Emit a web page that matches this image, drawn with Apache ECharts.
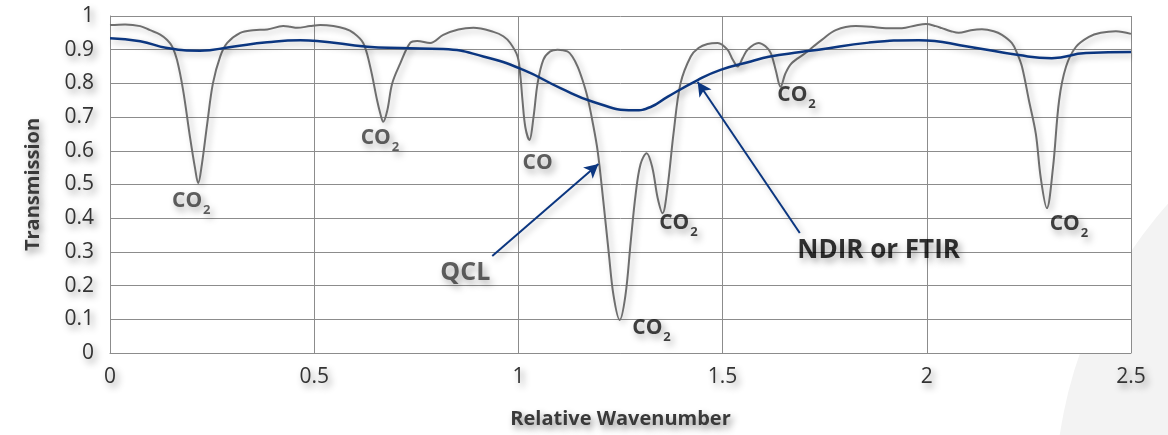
<!DOCTYPE html>
<html><head><meta charset="utf-8">
<script src="https://cdn.jsdelivr.net/npm/echarts@6/dist/echarts.min.js"></script>
<style>html,body{margin:0;padding:0;background:#fff}#c{width:1168px;height:435px}</style>
</head><body><div id="c"></div>
<script>
// QCL (high-resolution) transmission spectrum
const qclX = [0.000,0.037,0.074,0.098,0.123,0.140,0.152,0.164,0.179,0.196,0.208,0.216,0.225,0.238,0.252,0.270,0.287,0.319,0.350,0.385,0.424,0.441,0.458,0.490,0.515,0.547,0.576,0.596,0.620,0.637,0.654,0.662,0.669,0.679,0.691,0.711,0.735,0.752,0.784,0.816,0.853,0.890,0.939,0.963,0.980,0.998,1.005,1.010,1.017,1.027,1.037,1.047,1.061,1.078,1.096,1.120,1.132,1.145,1.157,1.169,1.181,1.194,1.208,1.221,1.233,1.248,1.262,1.275,1.287,1.299,1.314,1.328,1.341,1.353,1.365,1.380,1.397,1.422,1.441,1.463,1.488,1.512,1.525,1.537,1.549,1.561,1.588,1.605,1.618,1.630,1.642,1.654,1.669,1.703,1.723,1.743,1.777,1.826,1.863,1.900,1.939,1.973,1.998,2.022,2.037,2.059,2.078,2.108,2.135,2.164,2.184,2.208,2.221,2.233,2.250,2.267,2.279,2.294,2.309,2.324,2.341,2.365,2.397,2.426,2.463,2.500];
const qclY = [0.973,0.975,0.970,0.958,0.945,0.929,0.910,0.870,0.780,0.640,0.550,0.504,0.560,0.680,0.800,0.880,0.920,0.950,0.958,0.960,0.970,0.968,0.965,0.970,0.973,0.970,0.962,0.950,0.920,0.850,0.750,0.710,0.686,0.720,0.800,0.860,0.920,0.926,0.920,0.944,0.960,0.965,0.953,0.940,0.920,0.880,0.820,0.750,0.670,0.632,0.700,0.800,0.870,0.895,0.900,0.895,0.880,0.850,0.810,0.760,0.690,0.600,0.450,0.300,0.170,0.098,0.170,0.330,0.470,0.560,0.593,0.550,0.460,0.415,0.490,0.653,0.800,0.880,0.905,0.917,0.920,0.900,0.870,0.850,0.875,0.900,0.920,0.910,0.890,0.840,0.790,0.830,0.860,0.890,0.910,0.929,0.958,0.970,0.968,0.964,0.964,0.972,0.976,0.970,0.964,0.955,0.950,0.958,0.961,0.955,0.944,0.920,0.890,0.850,0.750,0.650,0.520,0.430,0.550,0.750,0.850,0.908,0.938,0.950,0.955,0.947];
// NDIR / FTIR (low-resolution) spectrum
const ndirX = [0.000,0.074,0.140,0.220,0.300,0.385,0.466,0.507,0.630,0.711,0.816,0.914,1.012,1.103,1.184,1.282,1.324,1.365,1.439,1.495,1.569,1.613,1.691,1.735,1.858,1.980,2.103,2.225,2.306,2.390,2.500];
const ndirY = [0.934,0.925,0.905,0.897,0.909,0.922,0.928,0.926,0.909,0.905,0.902,0.880,0.840,0.786,0.745,0.720,0.730,0.760,0.810,0.840,0.865,0.879,0.893,0.900,0.921,0.928,0.909,0.884,0.875,0.890,0.893];
// Molecule labels
const molText = ["CO2","CO2","CO","CO2","CO2","CO2","CO2"];
const molX = [0.199,0.661,1.047,1.392,1.326,1.681,2.348];
const molY = [0.439,0.626,0.564,0.374,0.062,0.754,0.371];
const molDark = [false,false,false,true,true,true,true];
// Callouts
const calloutText = ["QCL","NDIR or FTIR"];
const calloutX = [0.870,1.882];
const calloutY = [0.237,0.303];
const arrowFrom = [[0.936,0.288],[1.689,0.356]];
const arrowTo = [[1.196,0.561],[1.439,0.804]];
const xTicks = [0,0.5,1,1.5,2,2.5];
const yTicks = [0,0.1,0.2,0.3,0.4,0.5,0.6,0.7,0.8,0.9,1];

const FONT = '"Open Sans", "Noto Sans", sans-serif';
const SH = {textShadowColor:'rgba(0,0,0,0.45)', textShadowBlur:7, textShadowOffsetX:3, textShadowOffsetY:4};
const LSH = {shadowColor:'rgba(0,0,0,0.28)', shadowBlur:6, shadowOffsetX:3, shadowOffsetY:3};
const gridColor = '#8c8c8c';
const navy = '#0b3680';

const zip = (xs, ys) => xs.map((x,i)=>[x, ys[i]]);

const molData = molText.map((t,i)=>({
  value:[molX[i], molY[i]],
  label:{
    show:true, position:'inside', align:'center', verticalAlign:'middle',
    formatter: t === 'CO2' ? '{a|CO}{b|2}' : '{a|CO}',
    rich:{
      a:Object.assign({fontFamily:FONT, fontWeight:'bold', fontSize:21, color: molDark[i] ? '#111' : '#383838'}, SH),
      b:Object.assign({fontFamily:FONT, fontWeight:'bold', fontSize:13, color: molDark[i] ? '#111' : '#383838', padding:[18,0,0,1]}, SH)
    },
    offset: t === 'CO2' ? [0,-4] : [0,0]
  }
}));
const calloutData = calloutText.map((t,i)=>({
  value:[calloutX[i], calloutY[i]],
  label:Object.assign({show:true, position:'inside', align:'center', verticalAlign:'middle', formatter:t,
    fontFamily:FONT, fontWeight:'bold', fontSize: i===0 ? 25 : 26, color: i===0 ? '#383838' : '#000'}, SH)
}));

const chart = echarts.init(document.getElementById('c'), null, {renderer:'canvas'});
chart.setOption({
  backgroundColor:'#fff',
  animation:false,
  graphic:[{type:'circle', z:-10, shape:{cx:1500, cy:500, r:445}, style:{fill:'#f3f3f3'}}],
  grid:{left:110, right:37, top:16, bottom:82, show:true, backgroundColor:'#fff', borderWidth:0},
  xAxis:{type:'value', min:0, max:2.5, interval:0.5,
    name:'Relative Wavenumber', nameLocation:'middle', nameGap:56,
    nameTextStyle:Object.assign({fontFamily:FONT, fontWeight:'bold', fontSize:20, color:'#3a3a3a'}, SH),
    axisLine:{show:true, lineStyle:{color:gridColor, width:1}}, axisTick:{show:false},
    axisLabel:Object.assign({fontFamily:FONT, fontSize:21, color:'#333', margin:14,
      formatter:v=>String(v)}, SH),
    splitLine:{show:true, lineStyle:{color:gridColor, width:1}}},
  yAxis:{type:'value', min:0, max:1, interval:0.1,
    name:'Transmission', nameLocation:'middle', nameGap:67, nameRotate:90,
    nameTextStyle:Object.assign({fontFamily:FONT, fontWeight:'bold', fontSize:20, color:'#3a3a3a'}, SH),
    axisLine:{show:true, lineStyle:{color:gridColor, width:1}}, axisTick:{show:false},
    axisLabel:Object.assign({fontFamily:FONT, fontSize:21, color:'#333', margin:16,
      formatter:v=>String(Math.round(v*10)/10)}, SH),
    splitLine:{show:true, lineStyle:{color:gridColor, width:1}}},
  series:[
    {type:'line', data:zip(qclX,qclY), showSymbol:false, smooth:0.35, z:3,
      lineStyle:Object.assign({color:'#6e6e6e', width:2}, LSH)},
    {type:'line', data:zip(ndirX,ndirY), showSymbol:false, smooth:0.5, z:4,
      lineStyle:Object.assign({color:navy, width:2.5}, LSH),
      markLine:{silent:true, symbol:['none','arrow'], symbolSize:[11,14], precision:4,
        lineStyle:Object.assign({color:navy, width:2, type:'solid'}, LSH),
        label:{show:false},
        data: arrowFrom.map((f,i)=>[{coord:f},{coord:arrowTo[i]}])}},
    {type:'scatter', data:molData, symbolSize:0, z:6, silent:true},
    {type:'scatter', data:calloutData, symbolSize:0, z:6, silent:true}
  ]
});
</script></body></html>
